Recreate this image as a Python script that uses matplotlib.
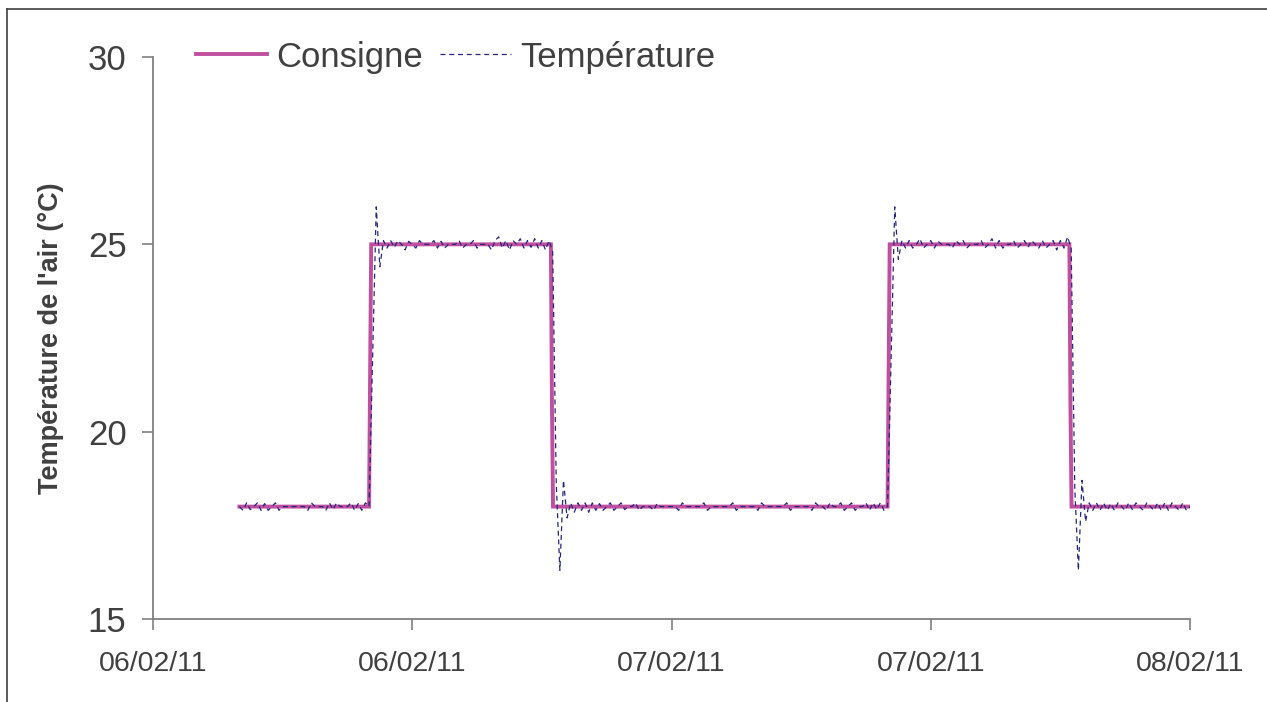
import pandas as pd
import matplotlib
matplotlib.use('Agg')
import matplotlib.pyplot as plt
import matplotlib.dates as mdates
from matplotlib.lines import Line2D

plt.rcParams['font.family'] = ['Liberation Sans', 'DejaVu Sans']

# consigne (points de rupture)
consigne_t = ['2011-02-06 04:00', '2011-02-06 10:00', '2011-02-06 10:03', '2011-02-06 10:06',
              '2011-02-06 18:25', '2011-02-06 18:28', '2011-02-06 18:31',
              '2011-02-07 10:00', '2011-02-07 10:03', '2011-02-07 10:06',
              '2011-02-07 18:25', '2011-02-07 18:28', '2011-02-07 18:31', '2011-02-08 00:00']
consigne_v = [18, 18, 21.6, 25, 25, 20.7, 18, 18, 21.6, 25, 25, 20.7, 18, 18]

# temperature mesuree, pas de 10 minutes a partir du 06/02 04:00
nuit1 = [18.0, 17.9, 18.1, 17.92, 18.0, 18.1,
         17.9, 18.08, 17.9, 18.0, 18.1, 17.9,
         18.0, 18.0, 18.0, 18.0, 18.0, 18.0,
         18.0, 17.9, 18.1, 18.0, 18.0, 18.0,
         17.9, 18.1, 17.92, 18.1, 18.0, 18.0,
         18.0, 18.1, 17.9, 18.08, 17.9, 18.1,
         18.0]
montee1 = [22.0, 26.0, 24.4, 25.1]
jour1 = [24.9,
         25.1, 24.92, 25.1, 25.0, 24.85, 25.08,
         25.0, 24.9, 25.1, 25.0, 25.0, 25.0,
         25.1, 24.9, 25.08, 24.9, 25.0, 25.0,
         25.0, 25.1, 24.9, 25.0, 25.0, 25.1,
         24.9, 25.0, 25.0, 25.0, 24.85, 25.1,
         25.2, 24.9, 25.1, 24.85, 25.1, 25.0,
         25.15, 24.9, 25.1, 24.92, 25.15, 24.9,
         25.1, 24.85, 25.1]
descente1 = [24.8, 18.6, 16.3, 18.7, 17.7, 18.1]
nuit2 = [17.85, 18.1, 17.9,
         18.1, 17.85, 18.1, 17.9, 18.08, 17.9,
         18.0, 18.1, 17.9, 18.0, 18.1, 17.92,
         18.0, 18.0, 18.1, 17.9, 18.0, 18.0,
         18.0, 17.9, 18.08, 18.0, 18.0, 18.0,
         18.0, 18.0, 17.9, 18.1, 18.0, 18.0,
         18.0, 18.0, 18.0, 18.1, 17.9, 18.0,
         18.0, 18.0, 18.0, 18.0, 18.0, 18.1,
         17.9, 18.0, 18.0, 18.0, 18.0, 18.0,
         17.9, 18.1, 18.0, 18.0, 18.0, 18.0,
         18.0, 18.0, 18.1, 17.9, 18.0, 18.0,
         18.0, 18.0, 18.0, 17.9, 18.1, 18.0,
         18.0, 17.9, 18.1, 18.0, 18.0, 18.1,
         17.9, 18.0, 18.1, 17.9, 18.0, 18.0,
         18.1, 17.9, 18.1, 17.92, 18.1, 17.9,
         18.0]
montee2 = [22.0, 26.0, 24.6, 25.1]
jour2 = [24.9,
         25.1, 24.9, 25.0, 25.15, 24.9, 25.0,
         25.1, 24.9, 25.08, 25.0, 25.0, 25.0,
         24.9, 25.1, 25.0, 25.1, 24.9, 25.0,
         25.0, 25.0, 25.1, 24.9, 25.0, 25.15,
         24.9, 25.1, 24.9, 25.0, 25.0, 25.1,
         24.9, 25.0, 25.1, 24.92, 25.1, 25.0,
         24.9, 25.1, 24.9, 25.0, 25.1, 24.85,
         25.1, 24.9, 25.2]
descente2 = [24.9, 18.5, 16.3, 18.7, 17.6, 18.1]
nuit3 = [17.9, 18.1, 17.9,
         18.1, 17.9, 18.08, 17.9, 18.1, 18.0,
         17.9, 18.1, 17.92, 18.1, 18.0, 17.9,
         18.1, 18.0, 17.9, 18.1, 17.9, 18.1,
         17.9, 18.1, 18.0, 17.9, 18.1, 17.9,
         18.0]

temperature = nuit1 + montee1 + jour1 + descente1 + nuit2 + montee2 + jour2 + descente2 + nuit3
temps = pd.date_range('2011-02-06 04:00', periods=len(temperature), freq='10min')

ticks_x = pd.date_range('2011-02-06 00:00', '2011-02-08 00:00', freq='12h')

fig = plt.figure(figsize=(12.67, 7.02), dpi=100)
ax = fig.add_axes([153/1267, 1 - 619/702, (1190 - 153)/1267, (619 - 57)/702])

ax.plot(pd.to_datetime(consigne_t), consigne_v, color='#c04fa0', lw=2.8, label='Consigne',
        solid_joinstyle='miter')
ax.plot(temps, temperature, color='#26267a', lw=0.9, linestyle=(0, (4, 3)), label='Température')

ax.set_xlim(ticks_x[0], ticks_x[-1])
ax.set_ylim(15, 30)
ax.set_yticks([15, 20, 25, 30])
ax.set_xticks(ticks_x)
ax.xaxis.set_major_formatter(mdates.DateFormatter('%d/%m/%y'))

for s in ['top', 'right']:
    ax.spines[s].set_visible(False)
for s in ['left', 'bottom']:
    ax.spines[s].set_color('#808080')
    ax.spines[s].set_linewidth(1.3)
ax.tick_params(axis='both', direction='out', length=8, width=1.2, color='#808080',
               colors='#404040')
ax.tick_params(axis='y', labelsize=25, pad=11)
ax.tick_params(axis='x', labelsize=20.5, pad=15)

ax.set_ylabel("Température de l'air (°C)", fontsize=19.5, fontweight='bold', color='#404040',
              labelpad=17)

ax.legend(loc='center left', bbox_to_anchor=(196/1267, 1 - 57/702), bbox_transform=fig.transFigure,
          ncol=2, frameon=False, fontsize=25, handlelength=2.05, handletextpad=0.25,
          columnspacing=0.5, borderpad=0, borderaxespad=0, labelcolor='#404040')

# cadre du graphique
fig.add_artist(Line2D([7/1267, 7/1267], [0, 1 - 9/702], transform=fig.transFigure,
                      color='#404040', lw=1.2))
fig.add_artist(Line2D([7/1267, 1], [1 - 9/702, 1 - 9/702], transform=fig.transFigure,
                      color='#404040', lw=1.2))

fig.savefig('out.png', dpi=100)
